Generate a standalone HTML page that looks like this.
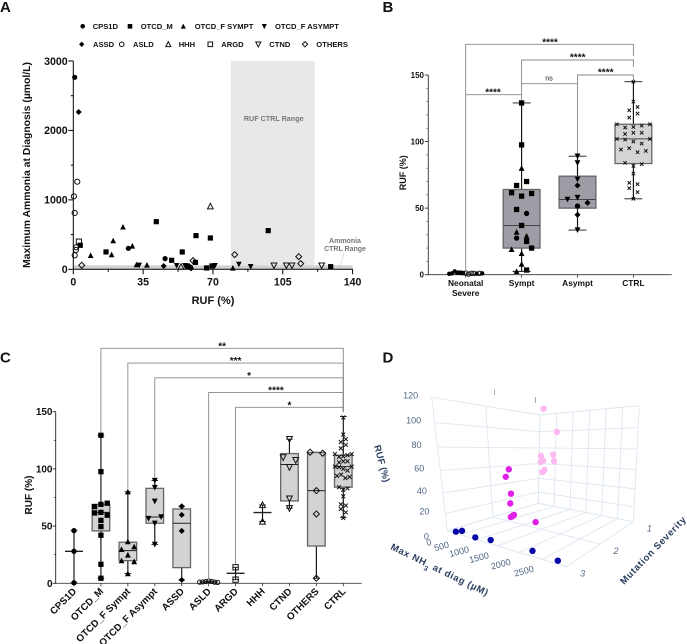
<!DOCTYPE html>
<html lang="en">
<head>
<meta charset="utf-8">
<title>Ammonia and RUF multi-panel figure</title>
<style>
html,body{margin:0;padding:0;background:#fff;width:687px;height:644px;overflow:hidden}
svg{display:block;filter:blur(0.3px)}
text{font-family:"Liberation Sans",Arial,sans-serif}
.b{font-weight:700;fill:#111}
</style>
</head>
<body>
<svg id="fig" xmlns="http://www.w3.org/2000/svg" width="687" height="644" viewBox="0 0 687 644">
  <g id="panelA">
    <text class="b" x="0" y="12" font-size="15">A</text>
    <rect id="rufRange" fill="#e8e8e8"/>
    <rect id="nh3Range" fill="#d2d2d2"/>
    <text x="273.7" y="121" font-size="7.2" font-weight="700" fill="#777" text-anchor="middle">RUF CTRL Range</text>
    <text x="345" y="243" font-size="7" font-weight="700" fill="#777" text-anchor="middle">Ammonia</text>
    <text x="345" y="251" font-size="7" font-weight="700" fill="#777" text-anchor="middle">CTRL Range</text>
    <line x1="344" y1="253" x2="340" y2="266" stroke="#ccc" stroke-width="0.6"/>
    <text class="b" font-size="10.4" transform="translate(30,165) rotate(-90)" text-anchor="middle">Maximum Ammonia at Diagnosis (µmol/L)</text>
    <text class="b" font-size="11" x="213" y="304" text-anchor="middle">RUF (%)</text>
  </g>
  <g id="panelB">
    <text class="b" x="382.5" y="12" font-size="15">B</text>
    <text class="b" font-size="9" transform="translate(406,172.7) rotate(-90)" text-anchor="middle">RUF (%)</text>
  </g>
  <g id="panelC">
    <text class="b" x="0" y="362.5" font-size="15">C</text>
    <text class="b" font-size="10" transform="translate(32,495) rotate(-90)" text-anchor="middle">RUF (%)</text>
  </g>
  <g id="panelD">
    <text class="b" x="382.5" y="362.5" font-size="15">D</text>
    <text font-size="9.5" font-weight="700" fill="#2a3f5f" transform="translate(374,446) rotate(75)" text-anchor="start" textLength="38">RUF (%)</text>
    <text font-size="9.5" font-weight="700" fill="#2a3f5f" transform="translate(390,549) rotate(26)" textLength="107">Max NH<tspan baseline-shift="sub" font-size="7">3</tspan> at diag (µM)</text>
    <text font-size="9.5" font-weight="700" fill="#2a3f5f" transform="translate(624,585) rotate(-46)" textLength="90">Mutation Severity</text>
  </g>
</svg>
<script>
/* ---------- Panel A data ---------- */
const aCps1dRuf=[0.7,27.6,46,58.8];
const aCps1dNh3=[2765,302,154,29];
const aOtcdMRuf=[41.6,61.5,68.7,97.7,16.4,54.6,49.3,61.2,3.5,66.8,69.5,129,57.4];
const aOtcdMNh3=[686,485,451,557,250,250,130,100,346,19,48,38,43];
const aSymptRuf=[8.7,19.2,20,24.9,29.6,31.7,36.9,80];
const aSymptNh3=[200,211,413,610,336,67,62,19];
const aAsymptRuf=[33,51.8,56,57,71,83,88.9];
const aAsymptNh3=[58,53,53,48,53,72,38];
const aAssdRuf=[2.7,45.3,59];
const aAssdNh3=[2265,48,14];
const aAsldRuf=[2,0.3,0.7,0.7,1.5,1.3];
const aAsldNh3=[1262,1051,811,202,317,278];
const aHhhRuf=[68.7,54];
const aHhhNh3=[907,38];
const aArgdRuf=[2.8];
const aArgdNh3=[398];
const aCtndRuf=[100.6,106.8,109.6,124.5];
const aCtndNh3=[53,53,53,53];
const aOthersRuf=[4.2,80.9,113,114,60];
const aOthersNh3=[58,211,182,82,125];
const aXTicks=[0,35,70,105,140];
const aYTicks=[0,1000,2000,3000];
const legendRow1=['CPS1D','OTCD_M','OTCD_F SYMPT','OTCD_F ASYMPT'];
const legendRow2=['ASSD','ASLD','HHH','ARGD','CTND','OTHERS'];

/* ---------- Panel B data ---------- */
const bCategories=[['Neonatal','Severe'],['Sympt'],['Asympt'],['CTRL']];
const bTicks=[0,50,100,150];
const bQ1=[null,20,50,83.5];
const bMedian=[null,37,56.5,102];
const bQ3=[null,64,74,113];
const bLow=[null,2.5,33.5,57];
const bHigh=[null,129,89,145];
const bNeonatalRuf=[0.7,1,2.5,1.5,1.5,1.2,1.2,0.5,1,1,0.8,1,1];
const bNeonatalGroup=['CPS1D','CPS1D','CPS1D','OTCD_M','OTCD_M','OTCD_M','ASLD','ASLD','ASLD','ASLD','CPS1D','ASLD','CPS1D'];
const bSymptRuf=[129,97.5,80,67,70,61.6,59,61,49,46,37,32,29,27.5,25,19,16,20,8,2.5,3.5];
const bSymptGroup=['OTCD_M','OTCD_M','OTCD_F SYMPT','OTCD_M','OTCD_M','OTCD_M','OTCD_M','OTCD_M','OTCD_M','CPS1D','OTCD_M','OTCD_F SYMPT','OTCD_F SYMPT','CPS1D','OTCD_M','OTCD_F SYMPT','OTCD_F SYMPT','OTCD_M','OTCD_F SYMPT','OTCD_F SYMPT','OTCD_M'];
const bAsymptRuf=[89,84,71.7,67,56.6,58,54,51.6,45,33.6];
const bAsymptGroup=['OTCD_F ASYMPT','OTCD_F ASYMPT','OTCD_F ASYMPT','ASSD','OTCD_F ASYMPT','OTCD_F ASYMPT','ASSD','CPS1D','ASSD','OTCD_F ASYMPT'];
const ctrlRuf=[145,130,123.5,126,118,121,113,110.5,111,112,113,105.7,106.6,106.6,102,101.5,100,98.5,102,94,95,92,93,84,81.7,83,76,69,68,65,62,57];
const bBracketLabels=['****','****','****','ns','****'];

/* ---------- Panel C data ---------- */
const cCategories=['CPS1D','OTCD_M','OTCD_F Sympt','OTCD_F Asympt','ASSD','ASLD','ARGD','HHH','CTND','OTHERS','CTRL'];
const cGroups=['CPS1D','OTCD_M','OTCD_F SYMPT','OTCD_F ASYMPT','ASSD','ASLD','ARGD','HHH','CTND','OTHERS','CTRL'];
const cTicks=[0,50,100,150];
const cMedian=[28,62,28.6,58,52.5,1.2,8.7,61.8,103.8,81,102];
const cQ1=[null,45.8,19.8,52.5,13.7,null,null,null,72,32.6,84];
const cQ3=[null,69,35.9,83,65,null,null,null,113.4,114.3,112];
const cLow=[0.5,4.4,8.5,34,3,0.8,3.2,54,65.6,4.4,57.4];
const cHigh=[46,129.4,80,89.8,67.3,2,14,68.5,126,114.6,145.8];
const cCps1dRuf=[46,28,0.5];
const cOtcdMRuf=[129.4,97.6,67,69,70,61.5,62,59.5,55,49.6,42,16.6,4.4];
const cSymptRuf=[80,36.4,29.7,32,24.8,19.8,19,8.5];
const cAsymptRuf=[89.8,83.7,71.7,56.6,58,52.5,34];
const cAssdRuf=[67.3,59.8,45.8,3];
const cAsldRuf=[1,1.2,1.5,2,1.5,1,0.8];
const cArgdRuf=[14,3.2];
const cHhhRuf=[68.5,54];
const cCtndRuf=[126,110,107.6,101.5,74,65.6];
const cOthersRuf=[114.6,113.7,81,60.6,4.4];
const cBracketFrom=[1,2,3,5,6];
const cBracketLabels=['**','***','*','****','*'];

/* ---------- Panel D data ---------- */
const dSev3Nh3=[370,574,943,1340,2292,2820];
const dSev3Ruf=[2.6,6,2.6,5,6.5,4];
const dSev2Nh3=[621,522,654,621,717,669,621,1329];
const dSev2Ruf=[60,52,35,24,11,9,7.3,8.3];
const dSev1Nh3=[105,525,54,430,54,120,460,170,105];
const dSev1Ruf=[127,99,70,72,62,64,64,52,49];
const dRufTicks=[0,20,40,60,80,100,120];
const dNh3Ticks=[0,500,1000,1500,2000,2500];
const dSevTicks=[1,2,3];

/* ---------- helpers ---------- */
const NS='http://www.w3.org/2000/svg';
const gA=document.getElementById('panelA'),gB=document.getElementById('panelB'),gC=document.getElementById('panelC'),gD=document.getElementById('panelD');
function add(tag,attrs,parent,name){
  const el=document.createElementNS(NS,tag);
  for(const k in attrs)el.setAttribute(k,attrs[k]);
  
  
  parent.appendChild(el);
  return el;
}
function label(parent,name,x,y,str,size,anchor,extra){
  const t=add('text',Object.assign({x:x,y:y,'font-size':size,'text-anchor':anchor||'middle','class':'b'},extra||{}),parent,name);
  t.textContent=str;
  return t;
}
function line(parent,name,x1,y1,x2,y2,stroke,w){
  return add('line',{x1:x1,y1:y1,x2:x2,y2:y2,stroke:stroke||'#000','stroke-width':w||1},parent,name);
}
const kinds={'CPS1D':'circle','OTCD_M':'square','OTCD_F SYMPT':'tri','OTCD_F ASYMPT':'tridown','ASSD':'diamond','ASLD':'ocircle','HHH':'otri','ARGD':'osquare','CTND':'otridown','OTHERS':'odiamond','CTRL':'x'};
function marker(group,cx,cy,s,parent,name){
  const k=kinds[group];
  const open=k.charAt(0)==='o';
  const base=open?k.slice(1):k;
  const st=open?{fill:'none',stroke:'#111','stroke-width':1}:{fill:'#000'};
  const r=s/2;
  if(base==='circle')return add('circle',Object.assign({cx:cx,cy:cy,r:r},st),parent,name);
  if(base==='square')return add('rect',Object.assign({x:cx-r,y:cy-r,width:s,height:s},st),parent,name);
  if(base==='tri')return add('polygon',Object.assign({points:(cx)+','+(cy-r*1.15)+' '+(cx+r*1.1)+','+(cy+r)+' '+(cx-r*1.1)+','+(cy+r)},st),parent,name);
  if(base==='tridown')return add('polygon',Object.assign({points:(cx)+','+(cy+r*1.15)+' '+(cx+r*1.1)+','+(cy-r)+' '+(cx-r*1.1)+','+(cy-r)},st),parent,name);
  if(base==='diamond')return add('polygon',Object.assign({points:cx+','+(cy-r*1.15)+' '+(cx+r*1.15)+','+cy+' '+cx+','+(cy+r*1.15)+' '+(cx-r*1.15)+','+cy},st),parent,name);
  return add('path',{d:'M'+(cx-r*0.85)+' '+(cy-r*0.85)+'L'+(cx+r*0.85)+' '+(cy+r*0.85)+'M'+(cx-r*0.85)+' '+(cy+r*0.85)+'L'+(cx+r*0.85)+' '+(cy-r*0.85),stroke:'#111','stroke-width':1,fill:'none'},parent,name);
}
function swarmOffsets(values,h,step,pairGap,maxW){
  const out=[];let i=0;
  while(i<values.length){
    let j=i+1;
    while(j<values.length&&Math.abs(values[j]-values[i])<=h)j++;
    const n=j-i;
    const gap=n===2?pairGap:(n>1?Math.min(step,maxW/(n-1)):0);
    for(let k=0;k<n;k++)out.push((k-(n-1)/2)*gap);
    i=j;
  }
  return out;
}

/* ---------- Panel A ---------- */
const xA=v=>73.3+v*279.3/140;
const yA=v=>269.3-v*208.3/3000;
const rr=document.getElementById('rufRange');
rr.setAttribute('x',xA(79));rr.setAttribute('y',yA(3000));rr.setAttribute('width',xA(121)-xA(79));rr.setAttribute('height',yA(0)-yA(3000));
const nr=document.getElementById('nh3Range');
nr.setAttribute('x',xA(0));nr.setAttribute('y',yA(58));nr.setAttribute('width',xA(140)-xA(0));nr.setAttribute('height',yA(0)-yA(58));
line(gA,'y-axis-a',xA(0),yA(3000),xA(0),yA(0)+0.5);
line(gA,'x-axis-a',xA(0),yA(0),xA(140),yA(0));
aYTicks.forEach(v=>{
  line(gA,'y-tick-a',xA(0)-5,yA(v),xA(0),yA(v));
  label(gA,'y-tick-label-a',67.7,yA(v)+3.8,v,10.6,'end');
  if(v<3000)line(gA,'y-minor-tick-a',xA(0)-2.5,yA(v+500),xA(0),yA(v+500));
});
aXTicks.forEach(v=>{
  line(gA,'x-tick-a',xA(v),yA(0),xA(v),yA(0)+5);
  label(gA,'x-tick-label-a',xA(v),285.5,v,10.6);
  if(v<140)line(gA,'x-minor-tick-a',xA(v+17.5),yA(0),xA(v+17.5),yA(0)+2.5);
});
[['OTHERS',aOthersRuf,aOthersNh3],['CTND',aCtndRuf,aCtndNh3],['ARGD',aArgdRuf,aArgdNh3],['HHH',aHhhRuf,aHhhNh3],['ASLD',aAsldRuf,aAsldNh3],['CPS1D',aCps1dRuf,aCps1dNh3],['OTCD_M',aOtcdMRuf,aOtcdMNh3],['OTCD_F SYMPT',aSymptRuf,aSymptNh3],['OTCD_F ASYMPT',aAsymptRuf,aAsymptNh3],['ASSD',aAssdRuf,aAssdNh3]].forEach(s=>{
  s[1].forEach((r,i)=>marker(s[0],xA(r),yA(s[2][i]),5.2,gA,'point-a'));
});
const legendGap1=[[82.7,92.7],[130,140.7],[183.3,194.7],[264.3,275]];
const legendGap2=[[81.7,93],[121.7,133],[168.3,178.7],[210.3,221.3],[258.3,269.3],[305,316.3]];
legendRow1.forEach((n,i)=>{
  marker(n,legendGap1[i][0],26.3,4.6,gA,'legend-marker');
  label(gA,'legend-entry',legendGap1[i][1],29,n,7.6,'start');
});
legendRow2.forEach((n,i)=>{
  marker(n,legendGap2[i][0],44.3,4.6,gA,'legend-marker');
  label(gA,'legend-entry',legendGap2[i][1],47,n,7.6,'start');
});

/* ---------- Box + swarm ---------- */
function drawBox(parent,x,yf,q1,med,q3,low,high,halfW,capW,fill,medW,medStroke){
  if(low!==null){
    line(parent,'whisker',x,yf(high),x,yf(low),'#111',1.15);
    line(parent,'whisker-cap-high',x-capW,yf(high),x+capW,yf(high),'#111',0.9);
    line(parent,'whisker-cap-low',x-capW,yf(low),x+capW,yf(low),'#111',0.9);
  }
  if(q1!==null){
    add('rect',{x:x-halfW,y:yf(q3),width:halfW*2,height:yf(q1)-yf(q3),fill:fill,stroke:'#666','stroke-width':1.3},parent,'box');
  }
  if(med!==null)line(parent,'median',x-(q1===null?medW:halfW),yf(med),x+(q1===null?medW:halfW),yf(med),medStroke,q1===null?1.4:1);
}

/* ---------- Panel B ---------- */
const bPos=i=>465.7+i*55.9;
const yB=v=>274.7-v*199.7/150;
line(gB,'y-axis-b',428.3,yB(150),428.3,yB(0)+0.5,'#333',0.9);
line(gB,'x-axis-b',428.3,yB(0),671.7,yB(0),'#333',0.9);
for(let v=0;v<=150;v+=10)line(gB,'y-minor-tick-b',426.3,yB(v),428.3,yB(v),'#555',0.7);
bTicks.forEach(v=>{
  line(gB,'y-tick-b',424.8,yB(v),428.3,yB(v),'#333',0.9);
  label(gB,'y-tick-label-b',424,yB(v)+2.9,v,8,'end');
});
bCategories.forEach((c,i)=>{
  line(gB,'x-tick-b',bPos(i),yB(0),bPos(i),yB(0)+3,'#333',0.8);
  c.forEach((t,j)=>label(gB,'x-tick-label-b',bPos(i),286+j*10,t,8.4));
});
function bracketB(x1,x2,y,drop1,drop2,lab,lx,ly,name){
  let d='M'+x1+' '+(drop1===null?y:drop1)+'L'+x1+' '+y+'L'+x2+' '+y+(drop2===null?'':'L'+x2+' '+drop2);
  add('path',{d:d,fill:'none',stroke:'#888','stroke-width':0.9},gB,name);
  if(lab==='ns')label(gB,'significance-label',lx,ly+2.5,lab,7,'middle',{style:'font-weight:400'});
  else label(gB,'significance-label',lx,ly+5.5,lab,10);
}
bracketB(bPos(0),bPos(3),44.3,yB(3)-1,56,bBracketLabels[0],550,40,'bracket-neonatal-ctrl');
bracketB(bPos(1),bPos(3),60,yB(bHigh[1])-2,67,bBracketLabels[1],577.7,55,'bracket-sympt-ctrl');
bracketB(bPos(2),bPos(3),75,yB(bHigh[2])-1,80,bBracketLabels[2],605.7,70,'bracket-asympt-ctrl');
bracketB(bPos(1),bPos(2),83.7,null,null,bBracketLabels[3],549,78,'bracket-sympt-asympt');
bracketB(bPos(0),bPos(1),94.7,null,null,bBracketLabels[4],493,90,'bracket-neonatal-sympt');
const bFills=['#9d9da5','#9d9da5','#9d9da5','#d4d4d4'];
bCategories.forEach((c,i)=>drawBox(gB,bPos(i),yB,bQ1[i],bMedian[i],bQ3[i],bLow[i],bHigh[i],18.4,9,bFills[i],9,'#444'));
[[bNeonatalRuf,bNeonatalGroup,0,10,10],[bSymptRuf,bSymptGroup,1,10,10],[bAsymptRuf,bAsymptGroup,2,10,10],[ctrlRuf,ctrlRuf.map(()=>'CTRL'),3,8.3,8.3]].forEach(s=>{
  const off=swarmOffsets(s[0],3.6,s[3],s[4],33);
  s[0].forEach((v,i)=>marker(s[1][i],bPos(s[2])+off[i],yB(v),s[1][i]==='CTRL'?4:(s[2]===0?4.4:5.3),gB,'point-b'));
});

/* ---------- Panel C ---------- */
const cPos=i=>74+i*26.93;
const yC=v=>583.3-v*171.6/150;
line(gC,'y-axis-c',55.7,yC(150),55.7,yC(0)+0.5,'#222',0.9);
line(gC,'x-axis-c',55.7,yC(0),361.7,yC(0),'#444',0.9);
for(let v=25;v<150;v+=50)line(gC,'y-minor-tick-c',53.7,yC(v),55.7,yC(v),'#333',0.7);
cTicks.forEach(v=>{
  line(gC,'y-tick-c',52.7,yC(v),55.7,yC(v),'#222',0.9);
  label(gC,'y-tick-label-c',52.5,yC(v)+3.5,v,10,'end');
});
cCategories.forEach((c,i)=>{
  line(gC,'x-tick-c',cPos(i),yC(0),cPos(i),yC(0)+3,'#333',0.8);
  const t=add('text',{'font-size':9.8,'text-anchor':'end','class':'b',transform:'translate('+(cPos(i)+3)+',592) rotate(-45)'},gC,'x-tick-label-c');
  t.textContent=c;
});
cBracketFrom.forEach((idx,k)=>{
  const y=348.3+k*14.75;
  const x1=cPos(idx),x2=cPos(10);
  const yl=yC(cHigh[idx])-3;
  add('path',{d:'M'+x1+' '+yl+'L'+x1+' '+y+'L'+x2+' '+y+'L'+x2+' 412',fill:'none',stroke:'#888','stroke-width':0.9},gC,'significance-bracket');
  label(gC,'significance-label',(x1+x2)/2,y+1,cBracketLabels[k],10);
});
cCategories.forEach((c,i)=>{
  drawBox(gC,cPos(i),yC,cQ1[i],cMedian[i],cQ3[i],cLow[i],cHigh[i],8.8,3.3,'#d3d3d3',9,'#222');
});
[cCps1dRuf,cOtcdMRuf,cSymptRuf,cAsymptRuf,cAssdRuf,cAsldRuf,cArgdRuf,cHhhRuf,cCtndRuf,cOthersRuf,ctrlRuf].forEach((vals,i)=>{
  const isCtrl=cGroups[i]==='CTRL';
  const off=swarmOffsets(vals,3.6,isCtrl?4.2:6.3,isCtrl?5:(i===6||i===7?0:12.6),isCtrl?17:18);
  vals.forEach((v,j)=>marker(cGroups[i],cPos(i)+off[j],yC(v),isCtrl?4.6:(i===5?4.2:5.3),gC,'point-c'));
});

/* ---------- Panel D (3D projection) ---------- */
function P(zx,zy){return [370+zx/3,340+zy/3];}
const cL=P(232,572),cF=P(590,680),cR=P(790,545),cB=P(505,490);
const cLt=P(185,172),cFt=P(600,179),cRt=P(808,197),cBt=P(510,225);
const lerp=(a,b,t)=>[a[0]+(b[0]-a[0])*t,a[1]+(b[1]-a[1])*t];
function project3d(nh3,ruf,sev){
  const s=(sev-1)/2;
  const t=Math.pow(Math.max(nh3,0)/3000,1+0.25*s);
  const vn=Math.max(ruf,0)/120;
  const v=Math.pow(vn,1.15);
  const nearB=lerp(cL,cF,t),farB=lerp(cB,cR,t);
  const nearT=lerp(cLt,cFt,t),farT=lerp(cBt,cRt,t);
  const bot=lerp(farB,nearB,s),top=lerp(farT,nearT,s);
  return lerp(bot,top,v);
}
function gridLine(a,b,name){
  return add('line',{x1:a[0],y1:a[1],x2:b[0],y2:b[1],stroke:'#dfe7f2','stroke-width':0.9},gD,name);
}
dRufTicks.forEach(r=>{
  gridLine(project3d(0,r,3),project3d(0,r,1),'grid-ruf-left-wall');
  gridLine(project3d(0,r,1),project3d(3000,r,1),'grid-ruf-back-wall');
});
dSevTicks.forEach(s=>{
  gridLine(project3d(0,0,s),project3d(0,120,s),'grid-severity-wall');
  gridLine(project3d(0,0,s),project3d(3000,0,s),'grid-severity-floor');
});
dNh3Ticks.forEach(n=>{
  gridLine(project3d(n,0,1),project3d(n,120,1),'grid-nh3-wall');
  gridLine(project3d(n,0,1),project3d(n,0,3),'grid-nh3-floor');
});
gridLine(project3d(3000,0,1),project3d(3000,120,1),'grid-edge');
gridLine(project3d(3000,0,1),project3d(3000,0,3),'grid-edge');
gridLine(project3d(0,0,3),project3d(3000,0,3),'grid-edge');
line(gD,'top-tick',494.3,389.5,494.3,395,'#555',0.5);
line(gD,'top-tick',535.7,397,535.7,403,'#555',0.5);
dRufTicks.forEach(r=>{
  const p=project3d(0,r,3);
  const t=add('text',{x:p[0]-21,y:p[1]+(r===0?6:-2)+3,'font-size':9,fill:'#506784','text-anchor':'middle'},gD,'z-tick-label-d');
  t.textContent=r;
});
dNh3Ticks.forEach(n=>{
  const p=project3d(n,0,3);
  const x=p[0]-17.7,y=p[1]+11.7;
  const t=add('text',{'font-size':9,fill:'#506784','text-anchor':'middle',transform:'translate('+x+','+(y+3)+') rotate(-15)'},gD,'x-tick-label-d');
  t.textContent=n;
});
dSevTicks.forEach(s=>{
  const p=project3d(3000,0,s);
  const t=add('text',{x:p[0]+16,y:p[1]+7+3,'font-size':9,'font-style':'italic',fill:'#506784','text-anchor':'middle'},gD,'y-tick-label-d');
  t.textContent=s;
});
function dots(nh,ru,sev,color,name){
  nh.forEach((n,i)=>{
    const p=project3d(n,ru[i],sev);
    add('circle',{cx:p[0],cy:p[1],r:3.2,fill:color},gD,name);
  });
}
dots(dSev1Nh3,dSev1Ruf,1,'#fdb8ee','point-severity-1');
dots(dSev2Nh3,dSev2Ruf,2,'#e01fe6','point-severity-2');
dots(dSev3Nh3,dSev3Ruf,3,'#0606a8','point-severity-3');
</script>
</body>
</html>
